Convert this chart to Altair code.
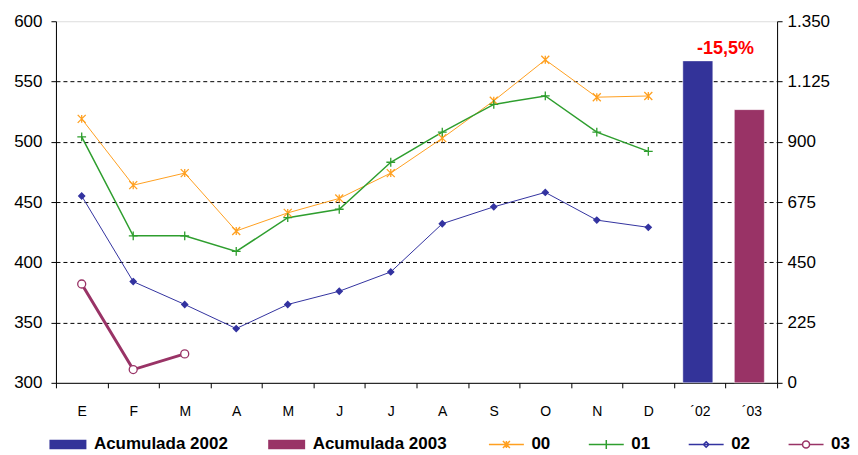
import altair as alt
import pandas as pd

# ---------------- data ----------------
month_keys = ["Ene", "Feb", "Mar", "Abr", "May", "Jun", "Jul", "Ago", "Sep", "Oct", "Nov", "Dic"]
year_keys = ["´02", "´03"]
category_keys = month_keys + year_keys
tick_labels = ["E", "F", "M", "A", "M", "J", "J", "A", "S", "O", "N", "D", "´02", "´03"]

series_names = ["00", "01", "02", "03"]
values_00 = [519, 464, 474, 426, 441, 453, 474, 503, 534, 568, 537, 538]
values_01 = [504, 422, 422, 409, 437, 444, 483, 508, 531, 538, 508, 492]
values_02 = [455, 384, 365, 345, 365, 376, 392, 432, 446, 458, 435, 429]
values_03 = [382, 311, 324]

bar_names = ["Acumulada 2002", "Acumulada 2003"]
bar_values = [1202, 1020]
variation_label = "-15,5%"

left_ticks = [300, 350, 400, 450, 500, 550, 600]
right_ticks = [0, 225, 450, 675, 900, 1125, 1350]

# ---------------- styling ----------------
FONT = "Liberation Sans"
C_BAR02 = "#333399"
C_BAR03 = "#993366"
series_colors = {"00": "#FFA020", "01": "#2E9E2E", "02": "#3333A0", "03": "#993366"}
series_widths = {"00": 1, "01": 1.5, "02": 1, "03": 3}

rows = []
for name, vals in zip(series_names, [values_00, values_01, values_02, values_03]):
    for k, v in zip(month_keys, vals):
        rows.append({"cat": k, "serie": name, "valor": v})
lines_df = pd.DataFrame(rows)
bars_df = pd.DataFrame({"cat": year_keys, "serie": bar_names, "valor": bar_values})
label_df = pd.DataFrame({"cat": [year_keys[1]], "valor": [bar_values[0]], "label": [variation_label]})

keys_js = "[" + ",".join("'" + k + "'" for k in category_keys) + "]"
labels_js = "[" + ",".join("'" + t + "'" for t in tick_labels) + "]"

x_axis = alt.Axis(
    title=None, labelAngle=0, labelFontSize=14, labelPadding=17,
    labelExpr=f"{labels_js}[indexof({keys_js}, datum.value)]",
    tickBand="extent", tickSize=5, domainColor="black", tickColor="black",
)
x_scale = alt.Scale(domain=category_keys, paddingInner=0, paddingOuter=0)


def X(**kw):
    return alt.X("cat:N", scale=x_scale, sort=category_keys, axis=x_axis, **kw)


y_left = alt.Y(
    "valor:Q",
    scale=alt.Scale(domain=[300, 600], nice=False, zero=False),
    axis=alt.Axis(
        title=None, orient="left", values=left_ticks, grid=True,
        gridColor="black", gridDash=[4, 3], gridWidth=1,
        gridOpacity={"condition": {"test": "datum.value === 300 || datum.value === 600", "value": 0}, "value": 1},
        labelFontSize=17, labelPadding=9, tickSize=5,
        domainColor="black", tickColor="black",
    ),
)
y_right = alt.Y(
    "valor:Q",
    scale=alt.Scale(domain=[0, 1350], nice=False),
    axis=alt.Axis(
        title=None, orient="right", values=right_ticks, grid=False,
        labelExpr="replace(format(datum.value, ','), ',', '.')",
        labelFontSize=17, labelPadding=5, tickSize=5,
        domainColor="black", tickColor="black",
    ),
)

# legend symbol paths
line_base = "M-0.8,0H6.2"
legend_paths = [
    line_base + "M2,-0.7L3.4,0.7M2,0.7L3.4,-0.7M2.7,-0.7V0.7",
    line_base + "M1.8,0H3.6M2.7,-0.9V0.9",
    line_base + "M2.7,-0.55L3.25,0L2.7,0.55L2.15,0Z",
    "M-0.8,0H2M3.4,0H6.2M3.4,0A0.7,0.7 0 1 1 2,0A0.7,0.7 0 1 1 3.4,0Z",
]

legend_common = dict(
    title=None, orient="none", direction="horizontal", padding=0,
    labelFont=FONT, labelFontSize=17, labelFontWeight="bold", labelColor="black",
    labelLimit=300, symbolSize=100, legendY=415,
)
bars_legend = alt.Legend(
    legendX=-10, columns=2, labelOffset=31, columnPadding=36,
    symbolType="M-1,-0.95H6.4V0.95H-1Z", symbolStrokeWidth=0, **legend_common,
)
lines_legend = alt.Legend(
    legendX=429, columns=4, labelOffset=30, columnPadding=34,
    symbolOpacity=1, **legend_common,
)

# one line layer and one marker layer per series
marker_shapes = {
    "00": ("M-1,-1L1,1M-1,1L1,-1M0,-1V1", None),
    "01": ("M-1.1,0H1.1M0,-1.1V1.1", None),
    "02": ("M0,-0.75L0.75,0L0,0.75L-0.75,0Z", series_colors["02"]),
    "03": ("circle", "#ffffff"),
}
line_layers = []
marker_layers = []
for name in series_names:
    base = alt.Chart(lines_df).transform_filter(alt.datum.serie == name)
    line_layers.append(
        base.mark_line(stroke=series_colors[name], strokeWidth=series_widths[name]).encode(x=X(), y=y_left)
    )
    shape, fill = marker_shapes[name]
    mk = dict(shape=shape, size=64, filled=False, opacity=1, strokeWidth=1.3, stroke=series_colors[name])
    if fill is not None:
        mk["fill"] = fill
    marker_layers.append(base.mark_point(**mk).encode(x=X(), y=y_left))

# layer that only carries the line-series legend (no rows drawn)
legend_carrier = alt.Chart(lines_df).transform_filter("false").mark_point(filled=False, opacity=1).encode(
    x=X(), y=y_left,
    stroke=alt.Stroke("serie:N", scale=alt.Scale(domain=series_names, range=[series_colors[s] for s in series_names]),
                      legend=lines_legend),
    shape=alt.Shape("serie:N", scale=alt.Scale(domain=series_names, range=legend_paths), legend=lines_legend),
    strokeWidth=alt.StrokeWidth("serie:N", scale=alt.Scale(domain=series_names, range=[1.5, 1.5, 1.5, 2.5]),
                                legend=lines_legend),
)

bars = alt.Chart(bars_df).mark_bar(width=30, xOffset=-2, stroke="#ffffff", strokeWidth=1, strokeOpacity=0.45).encode(
    x=X(),
    y=y_right,
    fill=alt.Fill("serie:N", scale=alt.Scale(domain=bar_names, range=[C_BAR02, C_BAR03]), legend=bars_legend),
)

label = alt.Chart(label_df).mark_text(
    baseline="bottom", align="center", dy=-3, font=FONT, fontSize=18, fontWeight="bold", color="#FF0000"
).encode(
    x=X(bandPosition=0),
    y=y_right,
    text="label:N",
)

left_part = alt.layer(*line_layers, *marker_layers, legend_carrier)
right_part = alt.layer(bars, label)

chart = alt.layer(left_part, right_part).resolve_scale(y="independent").properties(
    width=722, height=362,
    padding={"left": 5, "top": 4, "right": 0, "bottom": 0},
).configure_view(stroke="#404040", strokeWidth=1.5).configure_axis(
    labelFont=FONT, labelColor="black",
).configure(background="white")

chart.save("out.html", embed_options={"renderer": "svg", "actions": False})
